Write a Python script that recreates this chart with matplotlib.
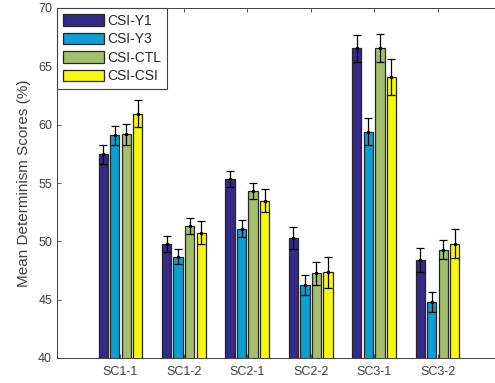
import matplotlib
matplotlib.use("Agg")
import matplotlib.pyplot as plt
import numpy as np

# Scenario groups and determinism scores per condition (mean, standard error)
categories = ["SC1-1", "SC1-2", "SC2-1", "SC2-2", "SC3-1", "SC3-2"]
series_names = ["CSI-Y1", "CSI-Y3", "CSI-CTL", "CSI-CSI"]

y1_mean = [57.45, 49.75, 55.35, 50.25, 66.55, 48.4]
y3_mean = [59.1, 48.7, 51.1, 46.25, 59.4, 44.8]
ctl_mean = [59.2, 51.3, 54.35, 47.25, 66.6, 49.3]
csi_mean = [60.95, 50.75, 53.5, 47.35, 64.05, 49.8]

y1_err = [0.78, 0.68, 0.72, 0.94, 1.17, 1.0]
y3_err = [0.8, 0.68, 0.72, 0.86, 1.14, 0.83]
ctl_err = [0.9, 0.69, 0.69, 0.97, 1.2, 0.8]
csi_err = [1.14, 0.97, 0.95, 1.31, 1.54, 1.23]

colors = ["#352A87", "#0A9ED2", "#A4BF6C", "#F8F80F"]

plt.rcParams["font.family"] = ["Liberation Sans", "DejaVu Sans"]
text_gray = "#404040"

fig = plt.figure(figsize=(4.95, 3.83), dpi=100)
ax = fig.add_axes([57 / 495, 25 / 383, 444 / 495, 350 / 383])

means = [y1_mean, y3_mean, ctl_mean, csi_mean]
errs = [y1_err, y3_err, ctl_err, csi_err]
x = np.arange(1, len(categories) + 1)
n = len(series_names)
group_w = min(0.8, n / (n + 1.5))
step = group_w / n
bar_w = 0.8 * step

for i, (m, e, c, name) in enumerate(zip(means, errs, colors, series_names)):
    xi = x - group_w / 2 + step * (i + 0.5)
    ax.bar(xi, m, width=bar_w, color=c, edgecolor="#262626", linewidth=0.9,
           label=name, zorder=2)
    ax.errorbar(xi, m, yerr=e, fmt=".", color="black", markersize=3,
                elinewidth=0.9, capsize=3, capthick=0.9, zorder=3)

ax.set_xlim(0, 7)
ax.set_ylim(40, 70)
ax.set_yticks(np.arange(40, 71, 5))
ax.set_xticks(x)
ax.set_xticklabels(categories)
ax.tick_params(axis="both", direction="in", colors=text_gray, labelsize=9,
               length=3, width=0.6, top=True, right=True)
ax.tick_params(axis="x", pad=6)
for s in ax.spines.values():
    s.set_color(text_gray)
    s.set_linewidth(0.7)

ax.set_ylabel("Mean Determinism Scores (%)", fontsize=11, color=text_gray,
              labelpad=5)

leg = ax.legend(loc="upper left", fontsize=10, frameon=True, fancybox=False,
                borderaxespad=0, handlelength=2.95, handleheight=0.9,
                labelspacing=0.33, handletextpad=0.3, borderpad=0.4)
leg.get_frame().set_edgecolor(text_gray)
leg.get_frame().set_linewidth(0.8)
leg.get_frame().set_alpha(1)
for t in leg.get_texts():
    t.set_color("#262626")

fig.savefig("out.png", dpi=100)
